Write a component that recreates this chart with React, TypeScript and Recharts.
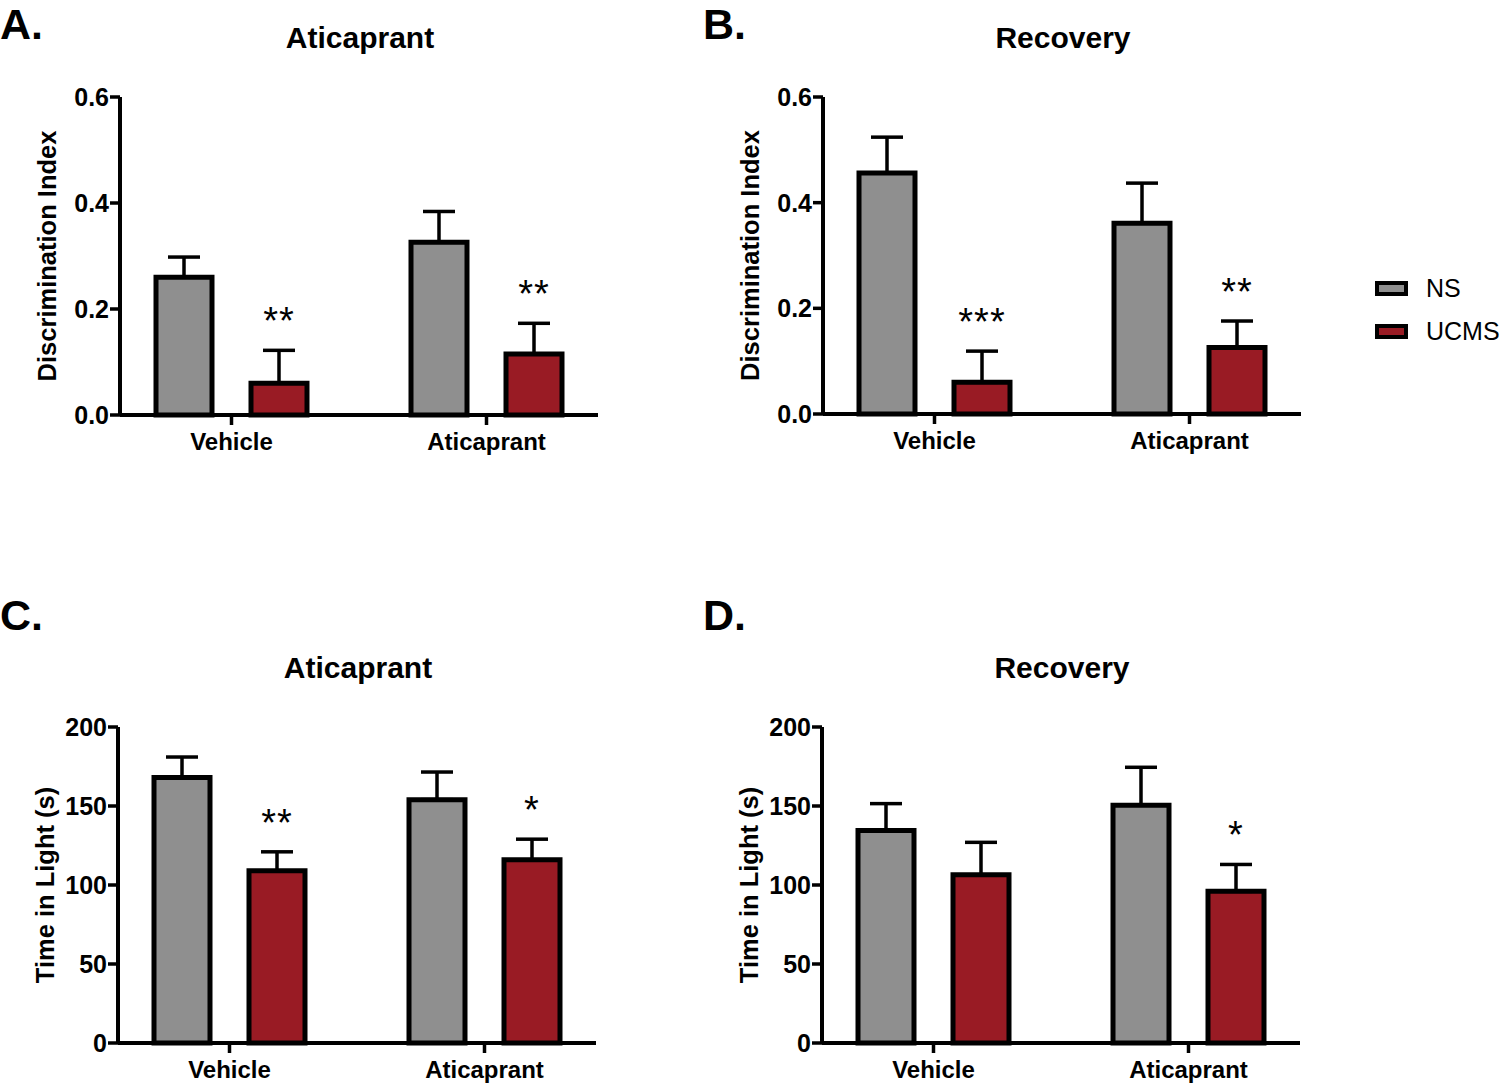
import React from "react";
import { BarChart, Bar, XAxis, YAxis, ErrorBar, LabelList } from "recharts";

// groups on the x axis
const categories = ["Vehicle", "Aticaprant"];
const seriesNames = ["NS", "UCMS"];
const seriesColors = ["#8f8f8f", "#991b24"];

// A. discrimination index, aticaprant
const discAticNS = [0.26, 0.326];
const discAticNSErr = [0.038, 0.058];
const discAticUCMS = [0.06, 0.115];
const discAticUCMSErr = [0.062, 0.058];
const discAticStars = ["**", "**"];

// B. discrimination index, recovery
const discRecNS = [0.456, 0.361];
const discRecNSErr = [0.068, 0.076];
const discRecUCMS = [0.06, 0.126];
const discRecUCMSErr = [0.059, 0.05];
const discRecStars = ["***", "**"];

// C. time in light, aticaprant
const lightAticNS = [168, 154];
const lightAticNSErr = [13, 17.5];
const lightAticUCMS = [109, 116];
const lightAticUCMSErr = [12, 13];
const lightAticStars = ["**", "*"];

// D. time in light, recovery
const lightRecNS = [134.5, 150.5];
const lightRecNSErr = [17, 24];
const lightRecUCMS = [106.5, 96];
const lightRecUCMSErr = [20.5, 17];
const lightRecStars = ["", "*"];

const discTicks = [0, 0.2, 0.4, 0.6];
const lightTicks = [0, 50, 100, 150, 200];

const FONT = '"Liberation Sans", Arial, sans-serif';
const PLOT_W = 478;
const Y_W = 120;
const M_TOP = 20;
const X_H = 70;
const CHART_W = 620;

type PanelProps = {
  letter: string;
  letterY: number;
  title: string;
  yLabel: string;
  ticks: number[];
  fmt: (v: number) => string;
  ns: number[];
  nsErr: number[];
  ucms: number[];
  ucmsErr: number[];
  stars: string[];
  axisX: number;
  plotTop: number;
  plotH: number;
};

function YTick(props: any) {
  const { x, y, payload, fmt } = props;
  return (
    <text x={x} y={y} textAnchor="end" dominantBaseline="central" fontFamily={FONT}
      fontWeight="bold" fontSize={25} fill="#000">
      {fmt(payload.value)}
    </text>
  );
}

function XTick(props: any) {
  const { x, y, payload } = props;
  return (
    <text x={x} y={y + 23} textAnchor="middle" fontFamily={FONT} fontWeight="bold"
      fontSize={24} fill="#000">
      {payload.value}
    </text>
  );
}

function Panel(p: PanelProps) {
  const rows = categories.map((c, i) => ({
    name: c,
    ns: p.ns[i],
    nsErr: [0, p.nsErr[i]],
    ucms: p.ucms[i],
    ucmsErr: [0, p.ucmsErr[i]],
    stars: p.stars[i],
  }));

  // stars sit just above the UCMS error cap
  const starLabel = (lp: any) => {
    const vb = lp.viewBox || lp;
    const x = vb.x ?? lp.x;
    const y = vb.y ?? lp.y;
    const w = vb.width ?? lp.width;
    const h = vb.height ?? lp.height;
    const row = rows[lp.index];
    if (!row || !row.stars) return null;
    const errTop = y - (row.ucmsErr[1] * h) / row.ucms;
    return (
      <text x={x + w / 2} y={errTop - 16} textAnchor="middle" fontFamily={FONT}
        fontSize={38} letterSpacing={1} fill="#000">
        {row.stars}
      </text>
    );
  };

  return (
    <div style={{ position: "absolute", left: p.axisX - Y_W, top: p.plotTop - M_TOP }}>
      <BarChart
        width={CHART_W}
        height={M_TOP + p.plotH + X_H}
        data={rows}
        margin={{ top: M_TOP, right: CHART_W - Y_W - PLOT_W, left: 0, bottom: 0 }}
        barSize={56}
        barGap={39}
      >
        <XAxis
          dataKey="name"
          height={X_H}
          padding={{ left: -16, right: -16 }}
          axisLine={{ stroke: "#000", strokeWidth: 4 }}
          tickLine={{ stroke: "#000", strokeWidth: 3.5 }}
          tickSize={10}
          tick={<XTick />}
          interval={0}
        />
        <YAxis
          width={Y_W}
          domain={[p.ticks[0], p.ticks[p.ticks.length - 1]]}
          ticks={p.ticks}
          axisLine={{ stroke: "#000", strokeWidth: 4 }}
          tickLine={{ stroke: "#000", strokeWidth: 3.5 }}
          tickSize={10}
          tickMargin={1}
          tick={<YTick fmt={p.fmt} />}
          interval={0}
        />
        <Bar dataKey="ns" name={seriesNames[0]} fill={seriesColors[0]} stroke="#000"
          strokeWidth={5} isAnimationActive={false}>
          <ErrorBar dataKey="nsErr" direction="y" width={16} stroke="#000" strokeWidth={3.5} />
        </Bar>
        <Bar dataKey="ucms" name={seriesNames[1]} fill={seriesColors[1]} stroke="#000"
          strokeWidth={5} isAnimationActive={false}>
          <ErrorBar dataKey="ucmsErr" direction="y" width={16} stroke="#000" strokeWidth={3.5} />
          <LabelList dataKey="stars" content={starLabel} />
        </Bar>
      </BarChart>
    </div>
  );
}

const panels: PanelProps[] = [
  {
    letter: "A.", letterY: 39, title: "Aticaprant", yLabel: "Discrimination Index", ticks: discTicks,
    fmt: (v) => v.toFixed(1), ns: discAticNS, nsErr: discAticNSErr, ucms: discAticUCMS,
    ucmsErr: discAticUCMSErr, stars: discAticStars, axisX: 120, plotTop: 97, plotH: 318,
  },
  {
    letter: "B.", letterY: 39, title: "Recovery", yLabel: "Discrimination Index", ticks: discTicks,
    fmt: (v) => v.toFixed(1), ns: discRecNS, nsErr: discRecNSErr, ucms: discRecUCMS,
    ucmsErr: discRecUCMSErr, stars: discRecStars, axisX: 823, plotTop: 97, plotH: 317,
  },
  {
    letter: "C.", letterY: 630, title: "Aticaprant", yLabel: "Time in Light (s)", ticks: lightTicks,
    fmt: (v) => String(v), ns: lightAticNS, nsErr: lightAticNSErr, ucms: lightAticUCMS,
    ucmsErr: lightAticUCMSErr, stars: lightAticStars, axisX: 118, plotTop: 727, plotH: 316,
  },
  {
    letter: "D.", letterY: 630, title: "Recovery", yLabel: "Time in Light (s)", ticks: lightTicks,
    fmt: (v) => String(v), ns: lightRecNS, nsErr: lightRecNSErr, ucms: lightRecUCMS,
    ucmsErr: lightRecUCMSErr, stars: lightRecStars, axisX: 822, plotTop: 727, plotH: 316,
  },
];

export default function App() {
  return (
    <div style={{ position: "absolute", left: 0, top: 0, width: 1500, height: 1083, background: "#fff" }}>
      {panels.map((p) => (
        <Panel key={p.letter} {...p} />
      ))}
      <svg width={1500} height={1083} style={{ position: "absolute", left: 0, top: 0, pointerEvents: "none" }}>
        {panels.map((p) => {
          const letterX = p.axisX < 400 ? 0 : 703;
          return (
            <g key={p.letter} fontFamily={FONT} fill="#000">
              <text x={letterX} y={p.letterY} fontSize={43} fontWeight="bold">{p.letter}</text>
              <text x={p.axisX + PLOT_W / 2 + 1} y={p.plotTop - 49} fontSize={30} fontWeight="bold"
                textAnchor="middle">{p.title}</text>
              <text transform={`translate(${p.axisX - 73},${p.plotTop + p.plotH / 2}) rotate(-90)`}
                fontSize={25.5} fontWeight="bold" textAnchor="middle" dominantBaseline="central">
                {p.yLabel}
              </text>
            </g>
          );
        })}
        {seriesNames.map((n, i) => (
          <g key={n} fontFamily={FONT}>
            <rect x={1377} y={283 + i * 43} width={29} height={11} fill={seriesColors[i]}
              stroke="#000" strokeWidth={4} />
            <text x={1426} y={297 + i * 43} fontSize={25} fill="#000">{n}</text>
          </g>
        ))}
      </svg>
    </div>
  );
}
